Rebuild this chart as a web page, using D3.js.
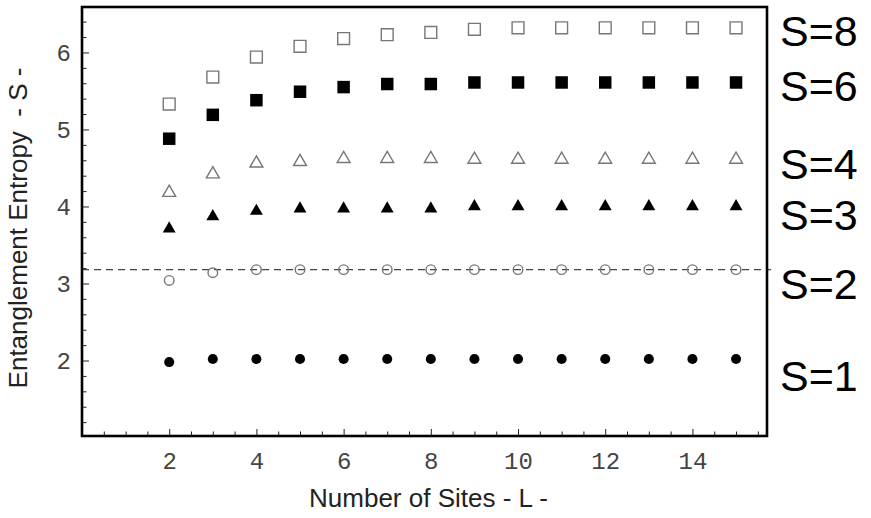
<!DOCTYPE html>
<html>
<head>
<meta charset="utf-8">
<script src="https://cdn.jsdelivr.net/npm/d3@7"></script>
<style>
  body { margin: 0; background: #fff; }
</style>
</head>
<body>
<div id="chart"></div>
<script>
// Values
var sites = [2, 3, 4, 5, 6, 7, 8, 9, 10, 11, 12, 13, 14, 15];
var entropyS1 = [1.98, 2.02, 2.02, 2.02, 2.02, 2.02, 2.02, 2.02, 2.02, 2.02, 2.02, 2.02, 2.02, 2.02];
var entropyS2 = [3.04, 3.14, 3.18, 3.18, 3.18, 3.18, 3.18, 3.18, 3.18, 3.18, 3.18, 3.18, 3.18, 3.18];
var entropyS3 = [3.71, 3.87, 3.94, 3.97, 3.97, 3.97, 3.97, 4.00, 4.00, 4.00, 4.00, 4.00, 4.00, 4.00];
var entropyS4 = [4.18, 4.42, 4.56, 4.58, 4.62, 4.62, 4.62, 4.61, 4.61, 4.61, 4.61, 4.61, 4.61, 4.61];
var entropyS6 = [4.88, 5.19, 5.38, 5.49, 5.55, 5.59, 5.59, 5.61, 5.61, 5.61, 5.61, 5.61, 5.61, 5.61];
var entropyS8 = [5.33, 5.68, 5.94, 6.08, 6.18, 6.23, 6.26, 6.30, 6.32, 6.32, 6.32, 6.32, 6.32, 6.32];
var limitS2 = 3.18;   // dashed horizontal line

var spinLabels = ["S=1", "S=2", "S=3", "S=4", "S=6", "S=8"];
var labelAt = [1.81, 3.0, 3.89, 4.56, 5.57, 6.29];   // where the right-hand labels sit (entropy units)

var xTicks = [2, 4, 6, 8, 10, 12, 14];
var yTicks = [2, 3, 4, 5, 6];

var series = [
  {values: entropyS1, symbol: d3.symbolCircle,   size: 80,  filled: true},
  {values: entropyS2, symbol: d3.symbolCircle,   size: 72,  filled: false},
  {values: entropyS3, symbol: d3.symbolTriangle, size: 72,  filled: true},
  {values: entropyS4, symbol: d3.symbolTriangle, size: 72,  filled: false},
  {values: entropyS6, symbol: d3.symbolSquare,   size: 156, filled: true},
  {values: entropyS8, symbol: d3.symbolSquare,   size: 140, filled: false}
];

var W = 871, H = 518;
var plot = {left: 82, right: 767, top: 7, bottom: 436};

var x = d3.scaleLinear().domain([0, 15.71]).range([plot.left, plot.right]);
var y = d3.scaleLinear().domain([1.02, 6.59]).range([plot.bottom, plot.top]);

var svg = d3.select("#chart").append("svg")
    .attr("width", W)
    .attr("height", H)
    .style("font-family", "'Liberation Sans', Arial, sans-serif");

svg.append("rect").attr("width", W).attr("height", H).attr("fill", "#fff");

// minor ticks
var xMinor = d3.range(0.5, 15.71, 0.5).filter(function(d) { return xTicks.indexOf(d) < 0; });
var yMinor = d3.range(1.2, 6.59, 0.2).filter(function(d) {
  return yTicks.every(function(t) { return Math.abs(t - d) > 0.01; });
});

svg.append("g")
    .attr("transform", "translate(0," + plot.bottom + ")")
    .call(d3.axisBottom(x).tickValues(xMinor).tickSize(-4.5).tickFormat(""))
    .call(function(g) { g.select(".domain").remove(); });
svg.append("g")
    .attr("transform", "translate(" + plot.left + ",0)")
    .call(d3.axisLeft(y).tickValues(yMinor).tickSize(-4.5).tickFormat(""))
    .call(function(g) { g.select(".domain").remove(); });

// major ticks with labels
var xAxis = svg.append("g")
    .attr("transform", "translate(0," + plot.bottom + ")")
    .call(d3.axisBottom(x).tickValues(xTicks).tickSize(-7).tickPadding(16).tickFormat(d3.format("d")));
var yAxis = svg.append("g")
    .attr("transform", "translate(" + plot.left + ",0)")
    .call(d3.axisLeft(y).tickValues(yTicks).tickSize(-7).tickPadding(11).tickFormat(d3.format("d")));

[xAxis, yAxis].forEach(function(g) {
  g.select(".domain").remove();
  g.selectAll("text")
    .attr("font-family", "'Liberation Mono', 'Courier New', monospace")
    .attr("font-size", 24)
    .attr("fill", "#444");
});
svg.selectAll(".tick line").attr("stroke", "#222").attr("stroke-width", 1);

// dashed asymptote for S=2
svg.append("line")
    .attr("x1", x(0)).attr("x2", x(15.71) + 4)
    .attr("y1", y(limitS2)).attr("y2", y(limitS2))
    .attr("stroke", "#444")
    .attr("stroke-width", 1.3)
    .attr("stroke-dasharray", "7,5");

// markers
series.forEach(function(s) {
  var sym = d3.symbol().type(s.symbol).size(s.size);
  svg.append("g").selectAll("path")
    .data(s.values)
    .enter().append("path")
      .attr("transform", function(d, i) { return "translate(" + x(sites[i]) + "," + y(d) + ")"; })
      .attr("d", sym)
      .attr("fill", s.filled ? "#000" : "none")
      .attr("stroke", s.filled ? "none" : "#777")
      .attr("stroke-width", 1.4);
});

// frame
svg.append("rect")
    .attr("x", plot.left).attr("y", plot.top)
    .attr("width", plot.right - plot.left)
    .attr("height", plot.bottom - plot.top)
    .attr("fill", "none")
    .attr("stroke", "#000")
    .attr("stroke-width", 2.6);

// right-hand labels
svg.append("g").selectAll("text")
    .data(spinLabels)
    .enter().append("text")
      .attr("x", plot.right + 13)
      .attr("y", function(d, i) { return y(labelAt[i]); })
      .attr("dy", "0.36em")
      .attr("font-size", 43)
      .attr("fill", "#000")
      .text(function(d) { return d; });

// axis titles
svg.append("text")
    .attr("x", (plot.left + plot.right) / 2 + 4)
    .attr("y", 507)
    .attr("text-anchor", "middle")
    .attr("font-size", 26)
    .attr("fill", "#222")
    .text("Number of Sites - L -");

svg.append("text")
    .attr("transform", "translate(27," + 228 + ") rotate(-90)")
    .attr("text-anchor", "middle")
    .attr("font-size", 26)
    .attr("fill", "#222")
    .style("white-space", "pre")
    .text("Entanglement Entropy  - S -");
</script>
</body>
</html>
